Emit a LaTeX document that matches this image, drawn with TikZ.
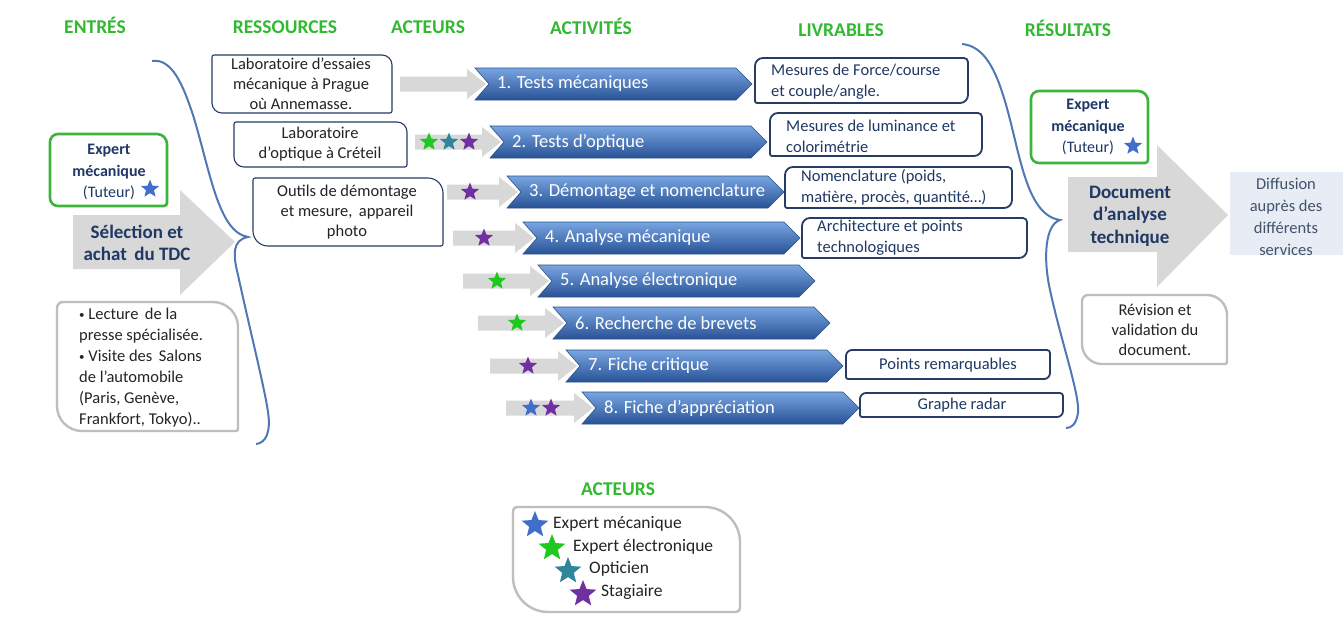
\documentclass[tikz,border=0pt]{standalone}
\usepackage{fontspec}
\setmainfont{Carlito}
\usetikzlibrary{shapes.geometric}
\definecolor{hdrgreen}{RGB}{50,185,50}
\definecolor{navy}{RGB}{31,56,100}
\definecolor{boxnavy}{RGB}{38,60,100}
\definecolor{bracec}{RGB}{79,120,180}
\definecolor{garr}{RGB}{216,216,216}
\definecolor{chevtop}{RGB}{120,165,225}
\definecolor{chevmid}{RGB}{75,125,195}
\definecolor{chevbot}{RGB}{40,82,150}
\definecolor{chevedge}{RGB}{45,80,135}
\definecolor{sblue}{RGB}{65,110,200}
\definecolor{sgreen}{RGB}{30,200,30}
\definecolor{steal}{RGB}{49,133,155}
\definecolor{spurple}{RGB}{112,48,160}
\definecolor{gbord}{RGB}{190,190,190}
\definecolor{boxgreen}{RGB}{60,180,60}
\definecolor{diffill}{RGB}{232,237,245}
\definecolor{diftxt}{RGB}{65,82,105}
\definecolor{dtxt}{RGB}{35,35,40}

% style, x1, y1, x2, y2, rTL, rTR, rBR, rBL
\newcommand\rdbox[9]{\path[#1] (#2+#6,#3) -- (#4-#7,#3) .. controls (#4-0.45*#7,#3) and (#4,#3+0.45*#7) .. (#4,#3+#7) -- (#4,#5-#8) .. controls (#4,#5-0.45*#8) and (#4-0.45*#8,#5) .. (#4-#8,#5) -- (#2+#9,#5) .. controls (#2+0.45*#9,#5) and (#2,#5-0.45*#9) .. (#2,#5-#9) -- (#2,#3+#6) .. controls (#2,#3+0.45*#6) and (#2+0.45*#6,#3) .. (#2+#6,#3) -- cycle;}
% name, left, y, text
\newcommand\chev[4]{\shade[top color=chevtop, middle color=chevmid, bottom color=chevbot, draw=chevedge, line width=0.6pt] (#2,#3-16) -- (#2+261,#3-16) -- (#2+277,#3) -- (#2+261,#3+16) -- (#2,#3+16) -- (#2+14,#3) -- cycle;
 \node[chevtxt, anchor=west] (#1) at (#2+22,#3) {#4};}
% left, chevron left, y
\newcommand\garrow[3]{\fill[garr] (#1,#3-7.5) -- (#2-8,#3-7.5) -- (#2-8,#3-15) -- (#2+11,#3) -- (#2-8,#3+15) -- (#2-8,#3+7.5) -- (#1,#3+7.5) -- cycle;}
\newcommand\smbul{\raisebox{0.12ex}{\fontsize{11}{11}\selectfont •}}

\tikzset{
 hdr/.style={font=\bfseries\fontsize{19.5}{22}\selectfont, text=hdrgreen, anchor=base, inner sep=0pt},
 chevtxt/.style={font=\fontsize{18.5}{21}\selectfont, text=white, inner sep=0pt},
 restxt/.style={font=\fontsize{16.5}{20}\selectfont, text=dtxt, align=center, inner sep=0pt},
 livtxt/.style={font=\fontsize{16.5}{21}\selectfont, text=navy, align=left, inner sep=0pt},
 exptxt/.style={font=\fontsize{16}{21.5}\selectfont, text=navy, align=center, inner sep=0pt},
 bigtxt/.style={font=\bfseries\fontsize{19}{22.5}\selectfont, text=navy, align=center, inner sep=0pt},
 gtxt/.style={font=\fontsize{16.5}{21}\selectfont, text=dtxt, inner sep=0pt},
 legtxt/.style={font=\fontsize{17.5}{21}\selectfont, text=dtxt, anchor=west, inner sep=0pt},
 pstar/.style={star, star points=5, star point ratio=2.3, inner sep=0pt, minimum size=19pt, fill=#1},
 lstar/.style={star, star points=5, star point ratio=2.3, inner sep=0pt, minimum size=28pt, fill=#1},
 resbox/.style={draw=boxnavy, line width=1.1pt, fill=white},
 livbox/.style={draw=boxnavy, line width=1.8pt, fill=white},
 graybox/.style={draw=gbord, line width=2.4pt, fill=white},
 greenbox/.style={draw=boxgreen, line width=2.6pt, fill=white},
 bracepath/.style={draw=bracec, line width=2pt}
}

\begin{document}
\begin{tikzpicture}[x=1pt, y=-1pt]
\useasboundingbox (0,0) rectangle (1344,624);
\fill[white] (0,0) rectangle (1344,624);

% headers
\node[hdr] (hEntres) at (95,33) {ENTRÉS};
\node[hdr] (hRess) at (285,33) {RESSOURCES};
\node[hdr] (hAct) at (428,33) {ACTEURS};
\node[hdr] (hActiv) at (591,34) {ACTIVITÉS};
\node[hdr] (hLiv) at (841,36) {LIVRABLES};
\node[hdr] (hRes) at (1068,36) {RÉSULTATS};

% braces
\path[bracepath] (152,61) .. controls (172,58) and (183,85) .. (193,115) .. controls (210,170) and (218,232) .. (248,237) .. controls (232,240) and (233,255) .. (238,275) .. controls (250,330) and (265,390) .. (268,412) .. controls (271,432) and (266,443) .. (256,444);
\path[bracepath] (962,44) .. controls (985,46) and (996,72) .. (1004,98) .. controls (1020,150) and (1025,215) .. (1060,220) .. controls (1045,225) and (1043,258) .. (1050,290) .. controls (1062,345) and (1080,395) .. (1078,413) .. controls (1076,425) and (1071,428) .. (1066,428);

% left side
\fill[garr] (73,215) -- (180,215) -- (180,190) -- (235,242) -- (180,295) -- (180,269) -- (73,269) -- cycle;
\node[bigtxt] (sel) at (137,243) {Sélection et\\achat\, du TDC};
\rdbox{greenbox}{50}{134}{167}{206}{8}{10}{3}{8}
\node[exptxt] (expL) at (109,172) {\textbf{Expert}\\\textbf{mécanique}\\(Tuteur)};
\node[pstar=sblue] (expLs) at (150,189) {};
\rdbox{graybox}{57}{302}{238}{431}{6}{25}{2}{25}
\node[gtxt, align=left, anchor=west] (lect) at (79,368) {\smbul\ Lecture\, de la\\presse spécialisée.\\\smbul\ Visite des\, Salons\\de l’automobile\\(Paris, Genève,\\Frankfort, Tokyo)..};

% resources
\rdbox{resbox}{212}{55}{392}{113}{2}{10}{2}{10}
\node[restxt] (r1) at (301,84) {Laboratoire d’essaies\\mécanique à Prague\\où Annemasse.};
\rdbox{resbox}{234}{122}{407}{167}{2}{10}{2}{10}
\node[restxt] (r2) at (320,144) {Laboratoire\\d’optique à Créteil};
\rdbox{resbox}{253}{178}{443}{246}{2}{15}{2}{15}
\node[restxt] (r3) at (347,212) {Outils de démontage\\et mesure,\, appareil\\photo};

% gray arrows
\garrow{400}{475}{84}
\garrow{415}{490}{142}
\garrow{447}{507}{192}
\garrow{453}{523}{238}
\garrow{463}{538}{281}
\garrow{478}{553}{323}
\garrow{490}{566}{366}
\garrow{506}{582}{408}

% stars
\node[pstar=sgreen] (s2a) at (429,142) {};
\node[pstar=steal] (s2b) at (449,142) {};
\node[pstar=spurple] (s2c) at (469,142) {};
\node[pstar=spurple] (s3) at (470,192) {};
\node[pstar=spurple] (s4) at (484,238) {};
\node[pstar=sgreen] (s5) at (497,281) {};
\node[pstar=sgreen] (s6) at (517,323) {};
\node[pstar=spurple] (s7) at (528,366) {};
\node[pstar=sblue] (s8a) at (531,408) {};
\node[pstar=spurple] (s8b) at (551,408) {};

% chevrons
\chev{a1}{475}{84}{1. Tests mécaniques}
\chev{a2}{490}{142}{2. Tests d’optique}
\chev{a3}{507}{192}{3. Démontage et nomenclature}
\chev{a4}{523}{238}{4. Analyse mécanique}
\chev{a5}{538}{281}{5. Analyse électronique}
\chev{a6}{553}{323}{6. Recherche de brevets}
\chev{a7}{566}{366}{7. Fiche critique}
\chev{a8}{582}{408}{8. Fiche d’appréciation}

% livrables
\rdbox{livbox}{755}{58}{968}{103}{8}{4}{8}{2}
\node[livtxt, anchor=west] (l1) at (771,82) {Mesures de Force/course\\et couple/angle.};
\rdbox{livbox}{770}{113}{982}{156}{8}{4}{8}{2}
\node[livtxt, anchor=west] (l2) at (786,136) {Mesures de luminance et\\colorimétrie};
\rdbox{livbox}{785}{167}{1012}{208}{8}{4}{8}{2}
\node[livtxt, anchor=west] (l3) at (801,187) {Nomenclature (poids,\\matière, procès, quantité…)};
\rdbox{livbox}{802}{218}{1027}{258}{8}{4}{8}{2}
\node[livtxt, anchor=west] (l4) at (817,238) {Architecture et points\\technologiques};
\rdbox{livbox}{846}{350}{1050}{379}{6}{3}{6}{2}
\node[livtxt] (l7) at (948,365) {Points remarquables};
\rdbox{livbox}{860}{393}{1063}{417}{6}{3}{6}{2}
\node[livtxt] (l8) at (962,405) {Graphe radar};

% right side
\fill[garr] (1068,177) -- (1157,177) -- (1157,145) -- (1228,215) -- (1157,287) -- (1157,252) -- (1068,252) -- cycle;
\node[bigtxt] (doc) at (1130,216) {Document\\d’analyse\\technique};
\rdbox{greenbox}{1031}{91}{1148}{163}{8}{10}{3}{8}
\node[exptxt] (expR) at (1088,127) {\textbf{Expert}\\\textbf{mécanique}\\(Tuteur)};
\node[pstar=sblue] (expRs) at (1133,146) {};
\fill[diffill] (1230,172) rectangle (1343,255);
\node[restxt, text=diftxt, font=\fontsize{16.5}{22}\selectfont] (dif) at (1286,217) {Diffusion\\auprès des\\différents\\services};
\rdbox{graybox}{1082}{295}{1227}{364}{6}{20}{2}{20}
\node[restxt] (rev) at (1155,330) {Révision et\\validation du\\document.};

% legend
\node[hdr] (hLeg) at (618,495) {ACTEURS};
\rdbox{graybox}{513}{507}{740}{612}{4}{35}{4}{35}
\node[lstar=sblue] (ls1) at (535,525) {};
\node[legtxt] (lt1) at (553,524) {Expert mécanique};
\node[lstar=sgreen] (ls2) at (552,548) {};
\node[legtxt] (lt2) at (573,547) {Expert électronique};
\node[lstar=steal] (ls3) at (568,571) {};
\node[legtxt] (lt3) at (589,569) {Opticien};
\node[lstar=spurple] (ls4) at (583,594) {};
\node[legtxt] (lt4) at (601,592) {Stagiaire};
\end{tikzpicture}
\end{document}
